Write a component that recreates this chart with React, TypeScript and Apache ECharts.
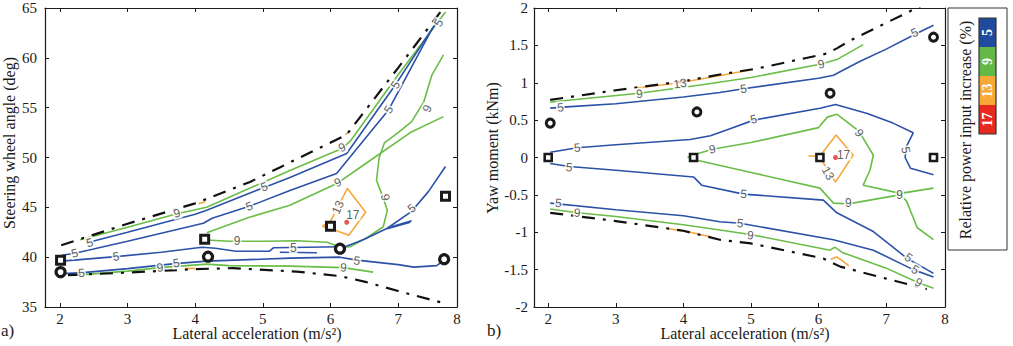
import React, { useEffect, useRef } from 'react';
import * as echarts from 'echarts';

// ---------- shared axis: lateral acceleration (m/s²) ----------
const X_TICKS = [2, 3, 4, 5, 6, 7];
const X_TICK_LABELS = ['2', '3', '4', '5', '6', '7', '8'];

// ---------- panel a) steering wheel angle (deg) ----------
const STEER_MIN = 35;
const STEER_MAX = 65;
const STEER_STEP = 5;

const steerEnvUpper = [[2.02, 41.2], [3, 43.35], [4, 45.4], [4.81, 47.55], [5.25, 49.0], [6.24, 52.3], [7, 59.0], [7.67, 65], [7.85, 66.6]];
const steerEnvLower = [[2.12, 38.2], [3, 38.45], [4, 38.8], [4.56, 38.9], [5.5, 38.55], [6.14, 38.1], [6.5, 37.55], [7, 36.6], [7.67, 35.4]];

const steer5a = [[2.4, 41.45], [3, 42.5], [4, 44.3], [4.17, 44.7], [5.02, 47.0], [5.4, 48.0], [6.24, 50.4], [6.96, 57.3], [7.51, 63.0], [7.62, 63.9]];
const steer5b = [[2.03, 40.2], [2.22, 40.4], [3, 41.6], [4.12, 43.4], [4.25, 43.9], [4.8, 45.1], [5.4, 46.7], [6.09, 48.4], [6.86, 54.8], [7.47, 62.5], [7.56, 63.5]];
const steer5c = [[6.14, 40.85], [6.5, 41.8], [6.84, 42.9], [7.2, 44.6], [7.45, 46.6], [7.7, 49.1]];
const steer5d = [[6.84, 42.85], [7.18, 43.5], [6.9, 43.05], [7.2, 43.65]];
const steer5e = [[2.03, 39.6], [2.83, 40.05], [3.5, 40.5], [4.1, 41.0], [4.3, 40.9], [4.6, 40.6], [5.1, 40.6], [5.16, 40.95], [6.14, 41.05]];
const steer5f = [[5.25, 40.5], [5.8, 40.45]];
const steer5g = [[2.05, 38.35], [2.34, 38.45], [3, 38.85], [3.7, 39.35], [4.17, 39.6], [5.4, 39.9], [6.14, 40.0], [6.39, 39.7], [7.0, 39.25], [7.23, 39.0], [7.57, 39.15], [7.68, 39.7]];

const steer9a = [[2.3, 41.75], [3, 43.0], [3.73, 44.35], [4.17, 45.0], [5, 47.5], [5.4, 48.7], [6.17, 50.9], [6.3, 51.7], [7, 58.3], [7.7, 64.6]];
const steer9b = [[4.17, 42.45], [4.8, 44.0], [5.4, 45.2], [6.11, 47.45], [6.5, 49.3], [7.18, 52.5], [7.67, 54.1]];
const steer9c = [[4.1, 41.75], [4.5, 41.6], [5.0, 41.6], [5.5, 41.65], [5.95, 41.5], [6.15, 41.0], [6.29, 41.05], [6.55, 42.0], [6.78, 43.05], [6.84, 44.7], [6.76, 46.3], [6.68, 47.7], [6.72, 50.0], [6.8, 51.5], [7.0, 52.5], [7.2, 53.6], [7.38, 55.6], [7.5, 58.3], [7.67, 60.3]];
const steer9d = [[2.35, 38.25], [3, 38.6], [3.48, 38.95], [4.17, 39.3], [4.5, 39.15], [5.4, 39.1], [6.19, 38.95], [6.63, 38.5]];

const steer13a = [[5.88, 43.1], [6.0, 43.6], [6.25, 46.9], [6.52, 44.5], [6.27, 42.2], [6.07, 42.7], [5.88, 43.1]];
const steer13b = [[4.05, 45.35], [4.15, 45.55]];
const steer13c = [[6.22, 52.3], [6.27, 52.55]];
const steer13d = [[3.42, 38.7], [3.52, 38.72]];
const steer13e = [[3.85, 38.85], [4.0, 38.88]];

const steer17 = [[6.24, 43.5]];

const steerSquares = [[2.01, 39.7], [4.14, 41.8], [6.0, 43.1], [7.7, 46.1]];
const steerCircles = [[2.01, 38.5], [4.19, 40.05], [6.14, 40.85], [7.68, 39.8]];

// contour labels: x, y, level text, angle (deg)
const steerLabels: [number, number, string, number][] = [
  [2.44, 41.45, '5', 15], [3.73, 44.4, '9', 15], [2.22, 40.4, '5', 15], [2.83, 40.05, '5', 8],
  [2.32, 38.42, '5', 5], [3.48, 38.95, '9', 8], [3.72, 39.4, '5', 8], [4.62, 41.6, '9', 0],
  [4.8, 45.1, '5', 20], [5.02, 47.05, '5', 20], [6.17, 51.0, '9', 25], [6.96, 57.3, '5', 60],
  [6.86, 54.8, '5', 58], [7.6, 63.5, '5', 60], [7.43, 54.9, '9', 65], [6.11, 47.5, '9', 25],
  [6.11, 45.0, '13', 65], [6.33, 44.25, '17', 0], [6.81, 46.0, '9', -80], [7.2, 44.9, '5', 40],
  [5.45, 40.9, '5', 0], [6.39, 39.65, '5', -8], [6.19, 38.95, '9', -5],
];

// ---------- panel b) yaw moment (kNm) ----------
const YAW_MIN = -2;
const YAW_MAX = 2;
const YAW_STEP = 0.5;

const yawEnvUpper = [[2.03, 0.77], [3, 0.9], [4, 1.02], [4.54, 1.11], [5.09, 1.19], [6.12, 1.39], [6.27, 1.46], [6.5, 1.58], [7.45, 2.0], [7.85, 2.18]];
const yawEnvLower = [[2.03, -0.74], [3, -0.85], [4, -0.98], [4.54, -1.1], [5, -1.15], [6.07, -1.35], [6.32, -1.46], [7.0, -1.62], [7.6, -1.76]];

const yaw5a = [[2.03, 0.66], [2.33, 0.68], [3, 0.72], [4, 0.81], [4.54, 0.87], [4.89, 0.92], [6.0, 1.06], [6.22, 1.1], [6.6, 1.28], [7.0, 1.45], [7.45, 1.66], [7.7, 1.77]];
const yaw5b = [[2.03, 0.07], [2.43, 0.13], [3, 0.17], [4.1, 0.24], [4.4, 0.29], [4.65, 0.37], [5.04, 0.5], [6.02, 0.66], [6.25, 0.71], [6.72, 0.59], [7.1, 0.46], [7.4, 0.33], [7.3, 0.15], [7.28, 0.0], [7.36, -0.145], [7.7, -0.23]];
const yaw5c = [[2.03, -0.08], [2.31, -0.12], [3, -0.17], [4.15, -0.26], [4.27, -0.37], [4.89, -0.49], [6.07, -0.57], [6.27, -0.74], [6.81, -0.99], [7.31, -1.35], [7.7, -1.55]];
const yaw5d = [[2.03, -0.61], [3, -0.7], [4, -0.78], [4.54, -0.86], [4.84, -0.88], [6.22, -1.1], [6.81, -1.24], [7.4, -1.5], [7.7, -1.6]];

const yaw9a = [[2.03, 0.74], [2.33, 0.77], [3.35, 0.86], [4.25, 0.97], [5, 1.07], [6.04, 1.25], [6.27, 1.31], [6.66, 1.51]];
const yaw9b = [[4.06, 0.0], [4.17, 0.04], [4.43, 0.11], [5, 0.2], [6.0, 0.4], [6.13, 0.54], [6.27, 0.58], [6.6, 0.35], [6.81, 0.03], [6.76, -0.17], [6.66, -0.37], [7.21, -0.48], [7.7, -0.41]];
const yaw9c = [[4.17, -0.03], [5, -0.2], [6.02, -0.41], [6.14, -0.53], [6.22, -0.61], [6.44, -0.62], [7.2, -0.5], [7.3, -0.58], [7.46, -0.94], [7.7, -1.1]];
const yaw9d = [[2.03, -0.69], [2.43, -0.74], [3, -0.79], [4, -0.9], [4.54, -0.97], [4.99, -1.03], [6.17, -1.24], [6.24, -1.2], [6.35, -1.27], [7, -1.48], [7.46, -1.67], [7.7, -1.75]];

const yaw13a = [[3.31, 0.93], [3.95, 1.0], [4.5, 1.09], [4.99, 1.17]];
const yaw13b = [[5.85, 0.02], [6.02, 0.02], [6.26, 0.3], [6.51, 0.03], [6.25, -0.33], [6.02, 0.0]];
const yaw13c = [[3.76, -0.95], [4.1, -1.0], [4.4, -1.06]];
const yaw13d = [[6.18, -1.36], [6.27, -1.33], [6.45, -1.45]];

const yaw17 = [[6.25, 0.0]];

const yawSquares = [[2.0, 0.0], [4.15, 0.0], [6.02, 0.0], [7.7, 0.0]];
const yawCircles = [[2.03, 0.46], [4.2, 0.61], [6.17, 0.86], [7.7, 1.61]];

const yawLabels: [number, number, string, number][] = [
  [2.18, 0.67, '5', 5], [3.35, 0.85, '9', 5], [3.95, 0.99, '13', 8], [4.89, 0.92, '5', 8],
  [6.04, 1.25, '9', 12], [7.42, 1.67, '5', 25], [2.43, 0.13, '5', 5], [5.04, 0.51, '5', 15],
  [7.29, 0.1, '5', -80], [4.43, 0.11, '9', 10], [6.6, 0.33, '9', -55], [6.37, 0.04, '17', 0],
  [6.14, -0.21, '13', -60], [2.31, -0.13, '5', -5], [4.89, -0.49, '5', -5], [6.44, -0.61, '9', 0],
  [7.2, -0.5, '9', 0], [2.15, -0.61, '5', -5], [2.43, -0.74, '9', -5], [4.84, -0.88, '5', -5],
  [4.99, -1.04, '9', -5], [7.33, -1.34, '5', -35], [7.43, -1.5, '5', -30], [7.48, -1.67, '9', -30],
];

// ---------- colour key ----------
const LEVELS = [5, 9, 13, 17];
const LEVEL_COLORS: Record<number, string> = { 5: '#2c52a8', 9: '#6abd47', 13: '#f5a73c', 17: '#e4302a' };
const KEY_COLORS: Record<number, string> = { 5: '#1f4a9e', 9: '#64b946', 13: '#f6a937', 17: '#e8291f' };
const KEY_TITLE = 'Relative power input increase (%)';

const SERIF = "'Liberation Serif', 'Times New Roman', serif";
const SANS = "'Liberation Sans', Arial, sans-serif";
const INK = '#1a1a1a';

type Panel = {
  grid: { left: number; top: number; width: number; height: number };
  xMin: number; xMax: number; yMin: number; yMax: number; yStep: number; yLabelGap: number;
};

const PANELS: Panel[] = [
  { grid: { left: 45, top: 8, width: 412, height: 299 }, xMin: 1.78, xMax: 7.87, yMin: STEER_MIN, yMax: STEER_MAX, yStep: STEER_STEP, yLabelGap: 8 },
  { grid: { left: 534, top: 8, width: 411, height: 299 }, xMin: 1.79, xMax: 7.87, yMin: YAW_MIN, yMax: YAW_MAX, yStep: YAW_STEP, yLabelGap: 6 },
];

function contour(points: number[][], level: number, panel: number): any {
  return {
    type: 'line', data: points, xAxisIndex: panel * 2, yAxisIndex: panel * 2,
    showSymbol: false, symbol: 'none', silent: true, clip: true, z: 2,
    lineStyle: { color: LEVEL_COLORS[level], width: 1.6 },
  };
}

function envelope(points: number[][], panel: number): any {
  return {
    type: 'line', data: points, xAxisIndex: panel * 2, yAxisIndex: panel * 2,
    showSymbol: false, symbol: 'none', silent: true, clip: true, z: 3,
    lineStyle: { color: '#111', width: 2.2, type: [13, 8, 3, 8] },
  };
}

function labelSeries(labels: [number, number, string, number][], panel: number): any {
  return {
    type: 'scatter', xAxisIndex: panel * 2, yAxisIndex: panel * 2, silent: true, z: 4,
    symbolSize: 1, itemStyle: { color: 'rgba(0,0,0,0)' },
    label: {
      show: true, position: 'inside', fontFamily: SANS, fontSize: 12, color: '#333',
      backgroundColor: '#fff', padding: [0, 1],
    },
    data: labels.map(([x, y, t, r]) => ({ value: [x, y], label: { formatter: t, rotate: r } })),
  };
}

function markerSeries(points: number[][], shape: string, size: number, border: number, panel: number): any {
  return {
    type: 'scatter', data: points, xAxisIndex: panel * 2, yAxisIndex: panel * 2, silent: true, z: 6,
    symbol: shape, symbolSize: size,
    itemStyle: { color: '#fff', borderColor: '#1a1a1a', borderWidth: border, opacity: 1 },
  };
}

function peakSeries(points: number[][], panel: number): any {
  return {
    type: 'scatter', data: points, xAxisIndex: panel * 2, yAxisIndex: panel * 2, silent: true, z: 5,
    symbol: 'circle', symbolSize: 5, itemStyle: { color: LEVEL_COLORS[17] },
  };
}

function buildOption(): any {
  const tickStyle = { show: true, inside: true, length: 4, lineStyle: { color: INK, width: 1 } };
  const lineStyle = { show: true, onZero: false, lineStyle: { color: INK, width: 1.2 } };

  const xAxis: any[] = [];
  const yAxis: any[] = [];
  PANELS.forEach((p, i) => {
    const labelPos = [...X_TICKS, p.xMax];
    xAxis.push({
      type: 'value', gridIndex: i, position: 'bottom', min: p.xMin, max: p.xMax,
      axisLine: lineStyle, splitLine: { show: false },
      axisTick: { ...tickStyle, customValues: X_TICKS },
      axisLabel: {
        customValues: labelPos, margin: 4, fontFamily: SERIF, fontSize: 15, color: INK,
        formatter: (v: number) => {
          const k = labelPos.findIndex((q) => Math.abs(q - v) < 1e-6);
          return k >= 0 ? X_TICK_LABELS[k] : '';
        },
      },
    });
    xAxis.push({
      type: 'value', gridIndex: i, position: 'top', min: p.xMin, max: p.xMax,
      axisLine: lineStyle, splitLine: { show: false },
      axisTick: { ...tickStyle, customValues: X_TICKS }, axisLabel: { show: false },
    });
    yAxis.push({
      type: 'value', gridIndex: i, position: 'left', min: p.yMin, max: p.yMax, interval: p.yStep,
      axisLine: lineStyle, splitLine: { show: false }, axisTick: tickStyle,
      axisLabel: { margin: p.yLabelGap, fontFamily: SERIF, fontSize: 15, color: INK },
    });
    yAxis.push({
      type: 'value', gridIndex: i, position: 'right', min: p.yMin, max: p.yMax, interval: p.yStep,
      axisLine: lineStyle, splitLine: { show: false }, axisTick: tickStyle, axisLabel: { show: false },
    });
  });

  const series: any[] = [
    // panel a
    contour(steer9a, 9, 0), contour(steer9b, 9, 0), contour(steer9c, 9, 0), contour(steer9d, 9, 0),
    contour(steer5a, 5, 0), contour(steer5b, 5, 0), contour(steer5c, 5, 0), contour(steer5d, 5, 0),
    contour(steer5e, 5, 0), contour(steer5f, 5, 0), contour(steer5g, 5, 0),
    contour(steer13a, 13, 0), contour(steer13b, 13, 0), contour(steer13c, 13, 0),
    contour(steer13d, 13, 0), contour(steer13e, 13, 0),
    envelope(steerEnvUpper, 0), envelope(steerEnvLower, 0),
    peakSeries(steer17, 0),
    labelSeries(steerLabels, 0),
    markerSeries(steerSquares, 'rect', 8, 3, 0),
    markerSeries(steerCircles, 'circle', 9, 3.2, 0),
    // panel b
    contour(yaw9a, 9, 1), contour(yaw9b, 9, 1), contour(yaw9c, 9, 1), contour(yaw9d, 9, 1),
    contour(yaw5a, 5, 1), contour(yaw5b, 5, 1), contour(yaw5c, 5, 1), contour(yaw5d, 5, 1),
    contour(yaw13a, 13, 1), contour(yaw13b, 13, 1), contour(yaw13c, 13, 1), contour(yaw13d, 13, 1),
    envelope(yawEnvUpper, 1), envelope(yawEnvLower, 1),
    peakSeries(yaw17, 1),
    labelSeries(yawLabels, 1),
    markerSeries(yawSquares, 'rect', 7, 2.6, 1),
    markerSeries(yawCircles, 'circle', 8, 3, 1),
  ];

  const segH = 29;
  const keyTop = 18;
  const keyGraphics: any[] = [
    { type: 'rect', shape: { x: 948, y: 8, width: 59, height: 242 }, style: { fill: '#fff', stroke: '#333', lineWidth: 1 } },
    {
      type: 'text', x: 965, y: 130, rotation: Math.PI / 2,
      style: { text: KEY_TITLE, fontFamily: SERIF, fontSize: 16, fill: INK, align: 'center', verticalAlign: 'middle' },
    },
  ];
  LEVELS.forEach((lv, k) => {
    const y = keyTop + k * segH;
    keyGraphics.push({ type: 'rect', shape: { x: 979, y, width: 17, height: segH }, style: { fill: KEY_COLORS[lv] } });
    keyGraphics.push({
      type: 'text', x: 987.5, y: y + segH / 2, rotation: Math.PI / 2,
      style: { text: String(lv), fontFamily: SERIF, fontSize: 14, fontWeight: 'bold', fill: '#fff', align: 'center', verticalAlign: 'middle' },
    });
  });
  keyGraphics.push({ type: 'rect', shape: { x: 979, y: keyTop, width: 17, height: segH * 4 }, style: { fill: 'none', stroke: '#333', lineWidth: 1.2 } });

  const titleStyle = { fontFamily: SERIF, fontSize: 16, fill: INK, align: 'center', verticalAlign: 'middle' };
  const graphic: any[] = [
    { type: 'text', x: 257, y: 333, style: { ...titleStyle, text: 'Lateral acceleration (m/s²)' } },
    { type: 'text', x: 745, y: 333, style: { ...titleStyle, text: 'Lateral acceleration (m/s²)' } },
    { type: 'text', x: 9, y: 143, rotation: Math.PI / 2, style: { ...titleStyle, text: 'Steering wheel angle (deg)' } },
    { type: 'text', x: 492, y: 148, rotation: Math.PI / 2, style: { ...titleStyle, text: 'Yaw moment (kNm)' } },
    { type: 'text', x: 1, y: 330, style: { ...titleStyle, align: 'left', fontSize: 17, text: 'a)' } },
    { type: 'text', x: 494, y: 330, style: { ...titleStyle, fontSize: 17, text: 'b)' } },
    ...keyGraphics,
  ];

  return {
    animation: false,
    backgroundColor: '#fff',
    grid: PANELS.map((p) => ({ ...p.grid, containLabel: false })),
    xAxis, yAxis, series, graphic,
  };
}

export default function App() {
  const ref = useRef<HTMLDivElement>(null);
  useEffect(() => {
    if (!ref.current) return;
    const chart = echarts.init(ref.current, null, { renderer: 'svg' });
    chart.setOption(buildOption());
    return () => chart.dispose();
  }, []);
  return (
    <div
      ref={ref}
      style={{ position: 'fixed', left: 0, top: 0, width: 1013, height: 346, background: '#fff' }}
    />
  );
}
